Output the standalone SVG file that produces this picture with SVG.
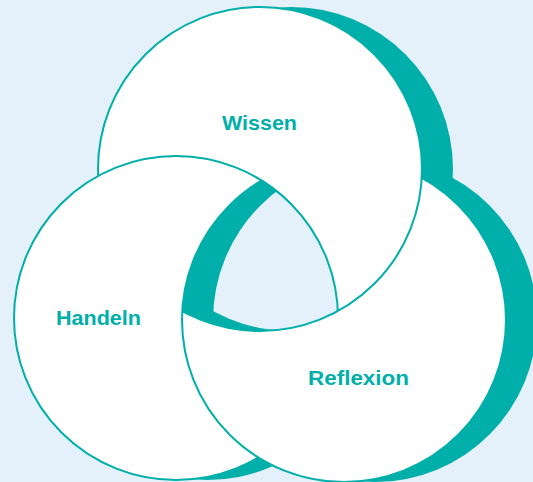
<svg xmlns="http://www.w3.org/2000/svg" width="533" height="482" viewBox="0 0 533 482">
<style>
.bg{fill:#e4f0fa}
.sh{fill:#00afaa}
.wh{fill:#ffffff}
.ol{fill:none;stroke:#00afaa;stroke-width:2}
.lbl{font-family:"Liberation Sans",Arial,sans-serif;font-weight:bold;font-size:21px;fill:#00afaa;text-anchor:middle}
</style>
<defs>
<circle id="cW" cx="260" cy="169" r="162"/>
<circle id="cH" cx="176" cy="318" r="162"/>
<circle id="cR" cx="344" cy="320" r="162"/>
<clipPath id="clipW"><circle cx="260" cy="169" r="162"/></clipPath>
<clipPath id="clipH"><circle cx="176" cy="318" r="162"/></clipPath>
<clipPath id="clipSW"><circle cx="291" cy="169" r="162"/></clipPath>
<clipPath id="clipSR"><circle cx="375" cy="320" r="162"/></clipPath>
<mask id="mW" maskUnits="userSpaceOnUse" x="0" y="0" width="533" height="482"><rect width="533" height="482" fill="#fff"/><circle cx="176" cy="318" r="162" fill="#000"/><circle cx="344" cy="320" r="162" fill="#fff"/></mask>
<mask id="mH" maskUnits="userSpaceOnUse" x="0" y="0" width="533" height="482"><rect width="533" height="482" fill="#fff"/><circle cx="344" cy="320" r="162" fill="#000"/><circle cx="260" cy="169" r="162" fill="#fff"/></mask>
<mask id="mR" maskUnits="userSpaceOnUse" x="0" y="0" width="533" height="482"><rect width="533" height="482" fill="#fff"/><circle cx="260" cy="169" r="162" fill="#000"/><circle cx="176" cy="318" r="162" fill="#fff"/></mask>
</defs>
<rect class="bg" x="0" y="0" width="533" height="482"/>
<g id="shadows">
<circle class="sh" cx="291" cy="169" r="162"/>
<circle class="sh" cx="207" cy="318" r="162"/>
<circle class="sh" cx="375" cy="320" r="162"/>
</g>
<g id="fills">
<use href="#cW" class="wh"/>
<use href="#cR" class="wh"/>
<use href="#cH" class="wh"/>
</g>
<g id="center-hole" clip-path="url(#clipW)">
<g clip-path="url(#clipH)">
<use href="#cR" class="sh"/>
<g clip-path="url(#clipSW)"><g clip-path="url(#clipSR)"><use href="#cR" class="bg"/></g></g>
</g>
</g>
<g id="node-wissen">
<use href="#cW" class="ol" mask="url(#mW)"/>
<text class="lbl" x="259.5" y="130" textLength="75" lengthAdjust="spacingAndGlyphs">Wissen</text>
</g>
<g id="node-handeln">
<use href="#cH" class="ol" mask="url(#mH)"/>
<text class="lbl" x="98.5" y="325" textLength="85" lengthAdjust="spacingAndGlyphs">Handeln</text>
</g>
<g id="node-reflexion">
<use href="#cR" class="ol" mask="url(#mR)"/>
<text class="lbl" x="358.5" y="385" textLength="101" lengthAdjust="spacingAndGlyphs">Reflexion</text>
</g>
</svg>
